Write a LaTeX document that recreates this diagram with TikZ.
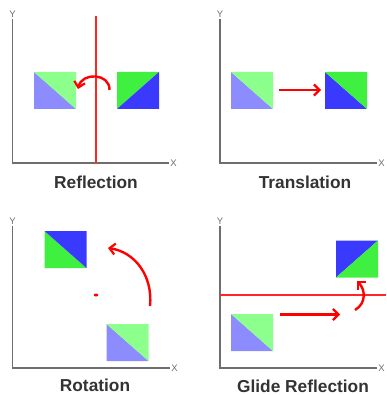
\documentclass[tikz,border=0pt]{standalone}
\usepackage{fontspec}
\setmainfont{Liberation Sans}
\usetikzlibrary{arrows.meta,shapes.geometric}
\definecolor{dblue}{HTML}{3A3AFF}
\definecolor{dgreen}{HTML}{40F040}
\definecolor{lblue}{HTML}{8C8CFF}
\definecolor{lgreen}{HTML}{8CFF8C}
\definecolor{axisgray}{HTML}{6E6E6E}
\definecolor{txt}{HTML}{333333}
\tikzset{
  axis/.style={draw=axisgray, line width=1.8pt},
  axlabel/.style={text=axisgray, font=\fontsize{9.5}{9.5}\selectfont, inner sep=0pt},
  sq/.style={minimum width=42pt, minimum height=37pt, inner sep=0pt, outer sep=0pt},
  redarrow/.style={draw=red, line width=2.4pt, -{Straight Barb[length=5.5pt,width=11pt,line width=2.2pt]}},
  mirror/.style={draw=red!85!white, line width=1.3pt},
  title/.style={text=txt, font=\bfseries\fontsize{17.3}{17.3}\selectfont, inner sep=0pt},
}
\newcommand{\lightsq}[1]{%
  \fill[lblue] (#1.north west) -- (#1.south east) -- (#1.south west) -- cycle;
  \fill[lgreen] (#1.north west) -- (#1.north east) -- (#1.south east) -- cycle;}
\begin{document}
\begin{tikzpicture}[x=1pt,y=-1pt]
\useasboundingbox (0,0) rectangle (386,395);
% ---------- Panel 1: Reflection
\coordinate (o1) at (12.5,163);
\coordinate (y1) at (12.5,19);
\coordinate (x1) at (169,163);
\node[axlabel] (Y1) at (12.5,14) {Y};
\node[axlabel] (X1) at (173.5,163) {X};
\draw[axis] (y1) -- (o1) -- (x1);
\coordinate (m1t) at (96,16);
\coordinate (m1b) at (96,163);
\draw[mirror] (m1t) -- (m1b);
\node[sq] (A1) at (55,90.5) {};
\lightsq{A1}
\node[sq] (B1) at (138,90.5) {};
\fill[dgreen] (B1.south west) -- (B1.north west) -- (B1.north east) -- cycle;
\fill[dblue] (B1.south west) -- (B1.north east) -- (B1.south east) -- cycle;
\coordinate (r1s) at (109.5,90);
\coordinate (r1e) at (78,89);
\draw[redarrow] (r1s) .. controls (110,73) and (82,72) .. (r1e);
\node[title] (T1) at (96,182) {Reflection};
% ---------- Panel 2: Translation
\coordinate (o2) at (220,163);
\coordinate (y2) at (220,19);
\coordinate (x2) at (377,163);
\node[axlabel] (Y2) at (220,14) {Y};
\node[axlabel] (X2) at (381.5,163) {X};
\draw[axis] (y2) -- (o2) -- (x2);
\node[sq] (A2) at (252,90.5) {};
\lightsq{A2}
\node[sq] (B2) at (346,90.5) {};
\fill[dblue] (B2.north west) -- (B2.south east) -- (B2.south west) -- cycle;
\fill[dgreen] (B2.north west) -- (B2.north east) -- (B2.south east) -- cycle;
\coordinate (t2s) at (279,90);
\coordinate (t2e) at (321,90);
\draw[redarrow] (t2s) -- (t2e);
\node[title] (T2) at (305,182) {Translation};
% ---------- Panel 3: Rotation
\coordinate (o3) at (12.5,368);
\coordinate (y3) at (12.5,226);
\coordinate (x3) at (170,368);
\node[axlabel] (Y3) at (12.5,221) {Y};
\node[axlabel] (X3) at (174.5,368) {X};
\draw[axis] (y3) -- (o3) -- (x3);
\node[sq] (A3) at (127.5,342.5) {};
\lightsq{A3}
\node[sq] (B3) at (65.5,249.5) {};
\fill[dgreen] (B3.north west) -- (B3.south east) -- (B3.south west) -- cycle;
\fill[dblue] (B3.north west) -- (B3.north east) -- (B3.south east) -- cycle;
\node[fill=red, ellipse, minimum width=4.5pt, minimum height=3pt, inner sep=0pt] (c3) at (96,295) {};
\coordinate (r3s) at (150,306);
\coordinate (r3e) at (108,248);
\draw[redarrow] (r3s) .. controls (153,276) and (135,252) .. (r3e);
\node[title] (T3) at (95,385.5) {Rotation};
% ---------- Panel 4: Glide Reflection
\coordinate (o4) at (220,368);
\coordinate (y4) at (220,226);
\coordinate (x4) at (377,368);
\node[axlabel] (Y4) at (220,221) {Y};
\node[axlabel] (X4) at (381.5,368) {X};
\draw[axis] (y4) -- (o4) -- (x4);
\coordinate (m4l) at (220,295);
\coordinate (m4r) at (386,295);
\draw[mirror] (m4l) -- (m4r);
\node[sq] (A4) at (252,332.5) {};
\lightsq{A4}
\node[sq] (B4) at (357,259) {};
\fill[dblue] (B4.south west) -- (B4.north west) -- (B4.north east) -- cycle;
\fill[dgreen] (B4.south west) -- (B4.north east) -- (B4.south east) -- cycle;
\coordinate (g4s) at (280,314.5);
\coordinate (g4e) at (340,314.5);
\draw[redarrow] (g4s) -- (g4e);
\coordinate (f4s) at (355,310);
\coordinate (f4e) at (357,281);
\draw[redarrow] (f4s) .. controls (367,303) and (365,289) .. (f4e);
\node[title] (T4) at (303,386) {Glide Reflection};
\end{tikzpicture}
\end{document}
